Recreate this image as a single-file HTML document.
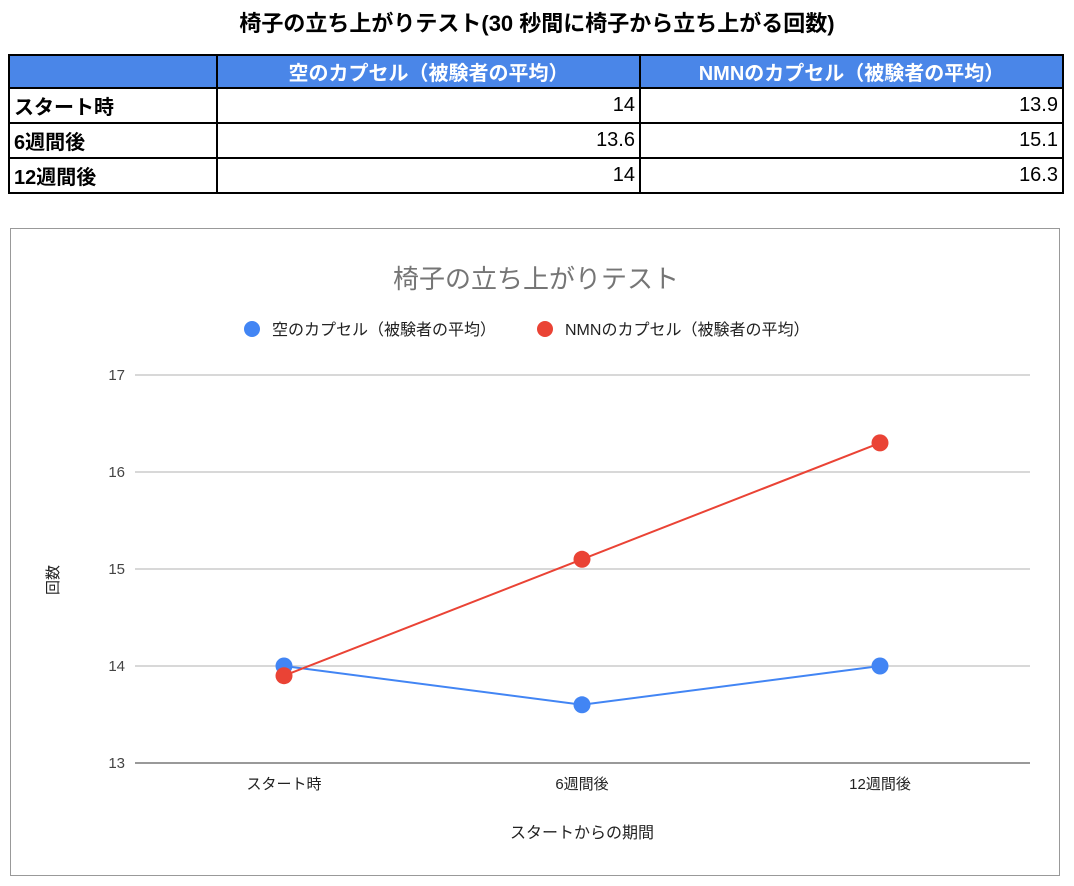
<!DOCTYPE html>
<html><head><meta charset="utf-8"><style>
body{margin:0;background:#fff;width:1074px;height:886px;position:relative;font-family:"Liberation Sans","Noto Sans CJK JP",sans-serif;overflow:hidden}
#title{position:absolute;top:6px;left:0;width:1074px;text-align:center;font-weight:bold;font-size:22px;color:#000}
table{position:absolute;left:8px;top:54px;border-collapse:collapse;font-size:20px}
td{border:2px solid #000;padding:0 4px;height:33px}
tr.h td{background:#4a86e8;color:#fff;font-weight:bold;text-align:center;height:31px}
td.l{font-weight:bold;width:198px}
td.n{text-align:right;width:413px}
#chart{position:absolute;left:10px;top:228px}
</style></head><body>
<div id="title">椅子の立ち上がりテスト(30 秒間に椅子から立ち上がる回数)</div>
<table>
<tr class="h"><td class="l"></td><td>空のカプセル（被験者の平均）</td><td>NMNのカプセル（被験者の平均）</td></tr>
<tr><td class="l">スタート時</td><td class="n">14</td><td class="n">13.9</td></tr>
<tr><td class="l">6週間後</td><td class="n">13.6</td><td class="n">15.1</td></tr>
<tr><td class="l">12週間後</td><td class="n">14</td><td class="n">16.3</td></tr>
</table>
<svg id="chart" width="1051" height="649" font-family="Liberation Sans, Noto Sans CJK JP, sans-serif">
<rect x="0.5" y="0.5" width="1049" height="647" fill="#fff" stroke="#999"/>
<text x="526" y="60" text-anchor="middle" font-size="26" fill="#757575">椅子の立ち上がりテスト</text>
<circle cx="242" cy="101" r="8" fill="#4285f4"/>
<text x="262" y="107" font-size="16" fill="#222">空のカプセル（被験者の平均）</text>
<circle cx="535" cy="101" r="8" fill="#ea4335"/>
<text x="555" y="107" font-size="16" fill="#222">NMNのカプセル（被験者の平均）</text>
<g id="grid"></g><g id="series"></g>
<text transform="translate(48,352) rotate(-90)" text-anchor="middle" font-size="15" fill="#222">回数</text>
<text x="572" y="610" text-anchor="middle" font-size="16" fill="#222">スタートからの期間</text>
</svg>
<script>
const categories=["スタート時","6週間後","12週間後"];
const placebo=[14,13.6,14];
const nmn=[13.9,15.1,16.3];
const yTicks=[13,14,15,16,17];
const NS="http://www.w3.org/2000/svg";
const yMin=13,yMax=17,plotTop=147,plotBot=535,plotLeft=125,plotRight=1020;
function yS(v){return plotBot-(v-yMin)/(yMax-yMin)*(plotBot-plotTop);}
function xS(i){return 274+i*298;}
function mk(t,a,p){const e=document.createElementNS(NS,t);for(const k in a)e.setAttribute(k,a[k]);p.appendChild(e);return e;}
const g=document.getElementById('grid'),s=document.getElementById('series');
yTicks.forEach(t=>{
 const l=mk('line',{x1:plotLeft,x2:plotRight,y1:yS(t),y2:yS(t),stroke:t===yMin?'#333':'#ccc','stroke-width':t===yMin?1:1.5},g);
 
 
 const tx=mk('text',{x:plotLeft-10,y:yS(t)+5,'text-anchor':'end','font-size':15,fill:'#444'},g);
 tx.textContent=t;
 
 
});
categories.forEach((c,i)=>{
 const tx=mk('text',{x:xS(i),y:561,'text-anchor':'middle','font-size':15,fill:'#222'},g);
 tx.textContent=c;
 
 
});
[[placebo,'#4285f4','placebo'],[nmn,'#ea4335','nmn']].forEach(([d,c,n])=>{
 const p=mk('polyline',{points:d.map((v,i)=>xS(i)+','+yS(v)).join(' '),fill:'none',stroke:c,'stroke-width':2},s);
 
 
 d.forEach((v,i)=>{
  const pt=mk('circle',{cx:xS(i),cy:yS(v),r:8.5,fill:c},s);
  
  
 });
});
</script>
</body></html>
